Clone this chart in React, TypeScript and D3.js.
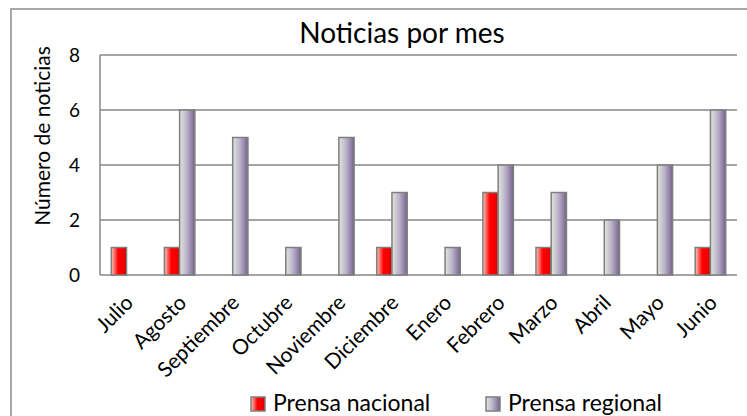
import { useEffect, useRef } from 'react';
import * as d3 from 'd3';

const months = ["Julio", "Agosto", "Septiembre", "Octubre", "Noviembre", "Diciembre", "Enero", "Febrero", "Marzo", "Abril", "Mayo", "Junio"];
const seriesNames = ["Prensa nacional", "Prensa regional"];
const nacional = [1, 1, 0, 0, 0, 1, 0, 3, 1, 0, 0, 1];
const regional = [0, 6, 5, 1, 5, 3, 1, 4, 3, 2, 4, 6];
const yTicks = [0, 2, 4, 6, 8];

const FONT = "Lato, 'Open Sans', sans-serif";

export default function App() {
  const svgRef = useRef<SVGSVGElement>(null);

  useEffect(() => {
    if (!svgRef.current) return;
    d3.select(svgRef.current).selectAll("*").remove();

    const svg = d3.select(svgRef.current);
    const W = 747, H = 416;
    const plot = { left: 100, right: 737, top: 55, bottom: 275 };

    // gradients for the bars
    const defs = svg.append("defs");
    const red = defs.append("linearGradient").attr("id", "gRed").attr("x1", "0").attr("x2", "1").attr("y1", "0").attr("y2", "0");
    red.append("stop").attr("offset", "0%").attr("stop-color", "#f4cdbf");
    red.append("stop").attr("offset", "45%").attr("stop-color", "#ff0000");
    red.append("stop").attr("offset", "80%").attr("stop-color", "#f20000");
    red.append("stop").attr("offset", "100%").attr("stop-color", "#c80000");
    const gray = defs.append("linearGradient").attr("id", "gGray").attr("x1", "0").attr("x2", "1").attr("y1", "0").attr("y2", "0");
    gray.append("stop").attr("offset", "0%").attr("stop-color", "#e2e6da");
    gray.append("stop").attr("offset", "45%").attr("stop-color", "#bdb5cc");
    gray.append("stop").attr("offset", "85%").attr("stop-color", "#8a7aa0");
    gray.append("stop").attr("offset", "100%").attr("stop-color", "#6e6084");

    // background + outer frame
    svg.append("rect").attr("width", W).attr("height", H).attr("fill", "#fff");
    svg.append("rect")
      .attr("x", 11).attr("y", 9).attr("width", W + 20).attr("height", H + 20)
      .attr("fill", "none").attr("stroke", "#8c8c8c").attr("stroke-width", 1.5);

    const x = d3.scaleBand().domain(months).range([plot.left, plot.right]).padding(0);
    const xs = d3.scaleBand().domain(seriesNames)
      .range([x.bandwidth() * 0.213, x.bandwidth() * 0.787]).padding(0);
    const y = d3.scaleLinear().domain([0, 8]).range([plot.bottom, plot.top]);

    // gridlines
    svg.append("g").selectAll("line")
      .data(yTicks)
      .join("line")
      .attr("x1", plot.left).attr("x2", plot.right)
      .attr("y1", d => y(d)).attr("y2", d => y(d))
      .attr("stroke", "#878787").attr("stroke-width", 1.5);

    // left axis line
    svg.append("line")
      .attr("x1", plot.left).attr("x2", plot.left)
      .attr("y1", plot.top).attr("y2", plot.bottom)
      .attr("stroke", "#878787").attr("stroke-width", 1.5);

    // y tick labels
    svg.append("g").selectAll("text")
      .data(yTicks)
      .join("text")
      .attr("x", 80).attr("y", d => y(d))
      .attr("dy", "0.35em")
      .attr("text-anchor", "end")
      .style("font-family", FONT).style("font-size", "19px")
      .text(d => d);

    // bars
    const series = [
      { name: seriesNames[0], values: nacional, fill: "url(#gRed)" },
      { name: seriesNames[1], values: regional, fill: "url(#gGray)" },
    ];
    series.forEach(s => {
      svg.append("g").selectAll("rect")
        .data(months.map((m, i) => ({ m, v: s.values[i] })).filter(d => d.v > 0))
        .join("rect")
        .attr("x", d => (x(d.m) ?? 0) + (xs(s.name) ?? 0))
        .attr("y", d => y(d.v))
        .attr("width", xs.bandwidth())
        .attr("height", d => y(0) - y(d.v))
        .attr("fill", s.fill)
        .attr("stroke", "#7f7f7f").attr("stroke-width", 1.5);
    });

    // x labels rotated
    svg.append("g").selectAll("text")
      .data(months)
      .join("text")
      .attr("transform", d => `translate(${(x(d) ?? 0) + x.bandwidth() / 2 + 8},${304}) rotate(-45)`)
      .attr("text-anchor", "end")
      .style("font-family", FONT).style("font-size", "21px")
      .text(d => d);

    // title
    svg.append("text")
      .attr("x", 402).attr("y", 43)
      .attr("text-anchor", "middle")
      .style("font-family", FONT).style("font-size", "28px")
      .text("Noticias por mes");

    // y axis title
    svg.append("text")
      .attr("transform", `translate(50,136) rotate(-90)`)
      .attr("text-anchor", "middle")
      .style("font-family", FONT).style("font-size", "21px")
      .text("Número de noticias");

    // legend
    const legend = [
      { name: seriesNames[0], fill: "url(#gRed)", x: 251 },
      { name: seriesNames[1], fill: "url(#gGray)", x: 486 },
    ];
    const lg = svg.append("g").selectAll("g").data(legend).join("g");
    lg.append("rect")
      .attr("x", d => d.x).attr("y", 397).attr("width", 14).attr("height", 14)
      .attr("fill", d => d.fill).attr("stroke", "#7f7f7f").attr("stroke-width", 1.5);
    lg.append("text")
      .attr("x", d => d.x + 22).attr("y", 411)
      .style("font-family", FONT).style("font-size", "23px")
      .text(d => d.name);
  }, []);

  return (
    <svg ref={svgRef} width={747} height={416} style={{ position: "absolute", left: 0, top: 0 }} />
  );
}
